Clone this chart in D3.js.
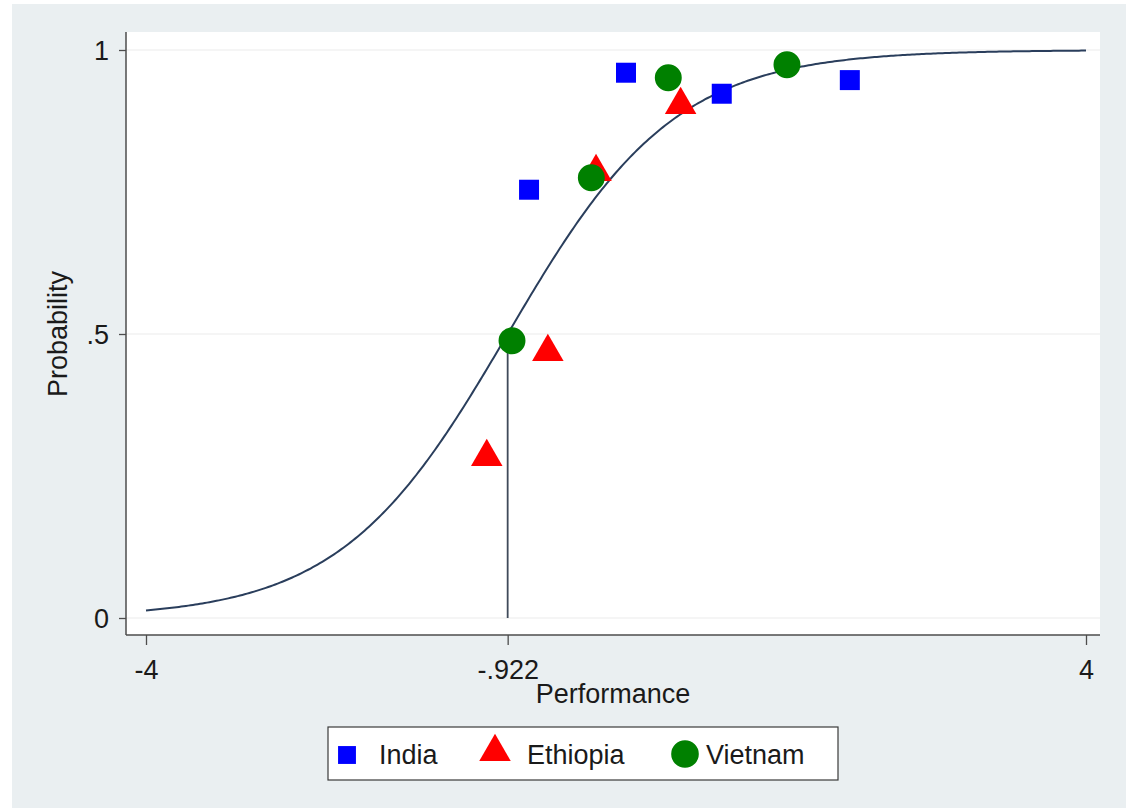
<!DOCTYPE html>
<html>
<head>
<meta charset="utf-8">
<script src="https://cdn.jsdelivr.net/npm/d3@7"></script>
<style>
html,body{margin:0;padding:0;background:#ffffff;}
svg{display:block;font-family:"Liberation Sans",Arial,sans-serif;}
</style>
</head>
<body>
<svg id="chart" width="1137" height="812"></svg>
<script>
// ---- data ----
const seriesNames = ["India", "Ethiopia", "Vietnam"];
const indiaX = [-0.74, 0.085, 0.90, 1.99];
const indiaY = [0.754, 0.960, 0.923, 0.947];
const ethiopiaX = [-1.10, -0.58, -0.17, 0.55];
const ethiopiaY = [0.287, 0.472, 0.789, 0.907];
const vietnamX = [-0.885, -0.21, 0.445, 1.455];
const vietnamY = [0.488, 0.775, 0.951, 0.974];
// item characteristic curve parameters (discrimination a, difficulty b)
const icc = {a: 1.40, b: -0.922};
const xTicks = [-4, -0.922, 4];
const xTickLabels = ["-4", "-.922", "4"];
const yTicks = [0, 0.5, 1];
const yTickLabels = ["0", ".5", "1"];
const xTitle = "Performance";
const yTitle = "Probability";

// ---- layout ----
const svg = d3.select("#chart");
const plot = {left: 126, right: 1100, top: 32, bottom: 635};
const x = d3.scaleLinear().domain([-4, 4]).range([146, 1086]);
const y = d3.scaleLinear().domain([0, 1]).range([618, 50]);
const FS = 27;
const textCol = "#1a1a1a";
const axisCol = "#4d4d4d";
const colors = {India: "#0000ff", Ethiopia: "#ff0000", Vietnam: "#008000"};

// outer background
svg.append("rect").attr("x", 12).attr("y", 4).attr("width", 1114).attr("height", 804)
  .attr("fill", "#eaeff1");
// plot region
svg.append("rect").attr("x", plot.left).attr("y", plot.top)
  .attr("width", plot.right - plot.left).attr("height", plot.bottom - plot.top)
  .attr("fill", "#ffffff");

// gridlines
svg.append("g").selectAll("line").data(yTicks).join("line")
  .attr("x1", plot.left).attr("x2", plot.right)
  .attr("y1", d => y(d)).attr("y2", d => y(d))
  .attr("stroke", "#ececec").attr("stroke-width", 1.2);

// y axis
const yAxis = d3.axisLeft(y).tickValues(yTicks).tickSize(7).tickPadding(10)
  .tickFormat((d, i) => yTickLabels[i]);
const gy = svg.append("g").attr("transform", `translate(${plot.left},0)`).call(yAxis);
gy.select(".domain").remove();
gy.selectAll(".tick line").attr("stroke", axisCol).attr("stroke-width", 1.3);
gy.selectAll(".tick text").attr("font-size", FS).attr("fill", textCol)
  .attr("font-family", "Liberation Sans, Arial, sans-serif").attr("dy", "0.34em");
svg.append("line").attr("x1", plot.left).attr("x2", plot.left)
  .attr("y1", plot.top).attr("y2", plot.bottom)
  .attr("stroke", axisCol).attr("stroke-width", 1.5);

// x axis
const xAxis = d3.axisBottom(x).tickValues(xTicks).tickSize(10).tickPadding(15)
  .tickFormat((d, i) => xTickLabels[i]);
const gx = svg.append("g").attr("transform", `translate(0,${plot.bottom})`).call(xAxis);
gx.select(".domain").remove();
gx.selectAll(".tick line").attr("stroke", axisCol).attr("stroke-width", 1.3);
gx.selectAll(".tick text").attr("font-size", FS).attr("fill", textCol)
  .attr("font-family", "Liberation Sans, Arial, sans-serif");
svg.append("line").attr("x1", plot.left).attr("x2", plot.right)
  .attr("y1", plot.bottom).attr("y2", plot.bottom)
  .attr("stroke", axisCol).attr("stroke-width", 1.5);

// axis titles
svg.append("text").attr("x", (plot.left + plot.right) / 2).attr("y", 703)
  .attr("text-anchor", "middle").attr("font-size", FS).attr("fill", textCol).text(xTitle);
svg.append("text").attr("transform", `translate(67,${y(0.5)}) rotate(-90)`)
  .attr("text-anchor", "middle").attr("font-size", FS).attr("fill", textCol).text(yTitle);

// curve
const curveX = d3.range(0, 401).map(i => -4 + i * 8 / 400);
const line = d3.line().x(d => x(d)).y(d => y(1 / (1 + Math.exp(-icc.a * (d - icc.b)))));
svg.append("path").datum(curveX).attr("d", line)
  .attr("fill", "none").attr("stroke", "#2a3e5c").attr("stroke-width", 2);

// reference drop line
svg.append("line").attr("x1", x(icc.b)).attr("x2", x(icc.b))
  .attr("y1", y(0.5)).attr("y2", y(0))
  .attr("stroke", "#3f4a5a").attr("stroke-width", 1.8);

// markers
const symSquare = d3.symbol().type(d3.symbolSquare).size(400);
const symTri = d3.symbol().type(d3.symbolTriangle).size(430);
const symCircle = d3.symbol().type(d3.symbolCircle).size(570);
const pts = (xs, ys) => xs.map((v, i) => ({x: v, y: ys[i]}));

svg.append("g").selectAll("path").data(pts(indiaX, indiaY)).join("path")
  .attr("d", symSquare).attr("transform", d => `translate(${x(d.x)},${y(d.y)})`)
  .attr("fill", colors.India);
svg.append("g").selectAll("path").data(pts(ethiopiaX, ethiopiaY)).join("path")
  .attr("d", symTri).attr("transform", d => `translate(${x(d.x)},${y(d.y) + 2})`)
  .attr("fill", colors.Ethiopia);
svg.append("g").selectAll("path").data(pts(vietnamX, vietnamY)).join("path")
  .attr("d", symCircle).attr("transform", d => `translate(${x(d.x)},${y(d.y)})`)
  .attr("fill", colors.Vietnam);

// legend
const lg = svg.append("g");
lg.append("rect").attr("x", 328).attr("y", 727).attr("width", 510).attr("height", 53)
  .attr("fill", "#ffffff").attr("stroke", "#3a3a3a").attr("stroke-width", 1.2);
const legendItems = [
  {name: seriesNames[0], sym: d3.symbol().type(d3.symbolSquare).size(320), sx: 347, sy: 755, tx: 379},
  {name: seriesNames[1], sym: symTri, sx: 495, sy: 752, tx: 527},
  {name: seriesNames[2], sym: d3.symbol().type(d3.symbolCircle).size(600), sx: 685, sy: 754, tx: 706}
];
legendItems.forEach(it => {
  lg.append("path").attr("d", it.sym).attr("transform", `translate(${it.sx},${it.sy})`)
    .attr("fill", colors[it.name]);
  lg.append("text").attr("x", it.tx).attr("y", 764).attr("font-size", FS)
    .attr("fill", textCol).text(it.name);
});
</script>
</body>
</html>
